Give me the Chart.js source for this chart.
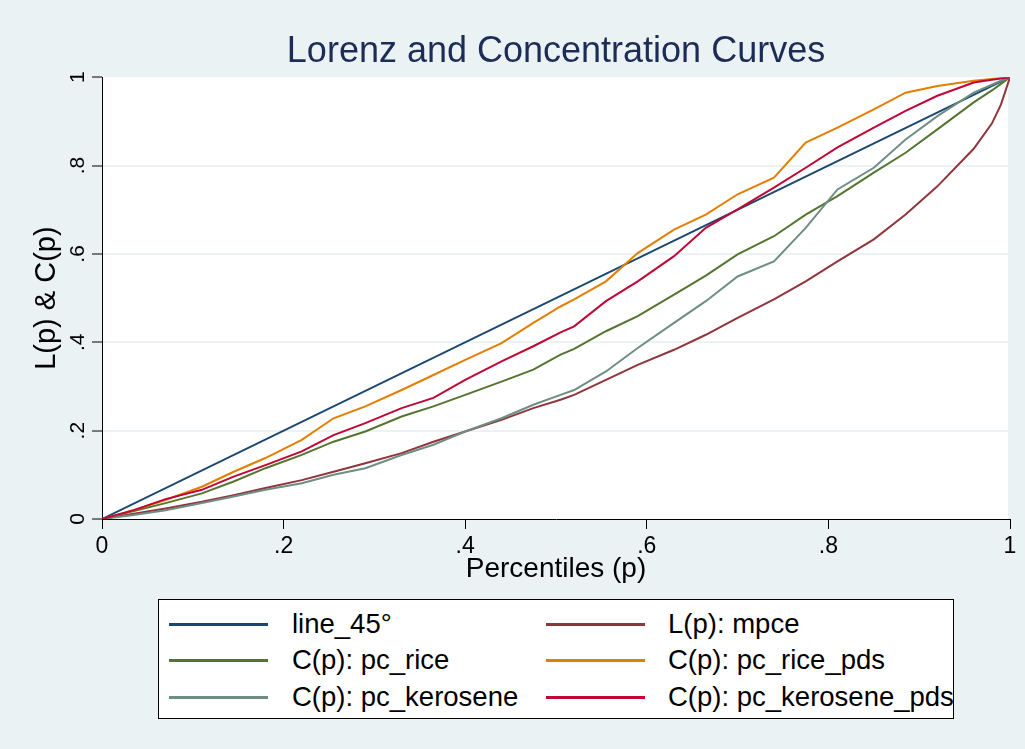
<!DOCTYPE html>
<html>
<head>
<meta charset="utf-8">
<script src="https://cdn.jsdelivr.net/npm/chart.js@4"></script>
<style>
  body { margin: 0; background: #eaf2f3; }
  #wrap { position: relative; width: 1025px; height: 749px; }
  #legend {
    position: absolute; left: 158px; top: 599px; width: 796px; height: 120px;
    box-sizing: border-box; border: 1px solid #000; background: #fff;
    font-family: "Liberation Sans", Arial, sans-serif; font-size: 27.5px; color: #000;
  }
  .sw { position: absolute; height: 3px; width: 99px; }
  .lb { position: absolute; line-height: 30px; white-space: nowrap; }
</style>
</head>
<body>
<div id="wrap">
  <canvas id="chart" width="1025" height="749"></canvas>
  <div id="legend"></div>
</div>
<script>
// percentiles (p) where the curves were read
const pct = [0, .035, .07, .11, .145, .18, .22, .255, .29, .33, .365, .40, .44, .475, .505,
             .52, .555, .59, .63, .665, .70, .74, .775, .81, .85, .885, .92, .96, .98, .99, 1];

const pct45 = [0, 1];
const line45 = [0, 1];

const mpce = [0, .012, .024, .039, .054, .070, .088, .107, .126, .149, .175, .198, .2245, .251, .270,
              .281, .315, .349, .383, .417, .455, .497, .538, .583, .633, .689, .753, .838, .895, .938, 1];
const rice = [0, .018, .036, .058, .085, .115, .145, .175, .198, .232, .255, .281, .311, .338, .372,
              .385, .425, .459, .508, .551, .599, .640, .689, .731, .784, .829, .882, .943, .970, .985, 1];
const ricePds = [0, .020, .043, .073, .107, .138, .179, .228, .255, .292, .326, .36, .398, .444, .481,
                 .497, .538, .602, .655, .689, .735, .7725, .852, .886, .927, .965, .980, .992, .996, .998, 1];
const kero = [0, .009, .020, .036, .051, .066, .081, .100, .115, .145, .168, .198, .228, .2585, .281,
              .292, .334, .387, .444, .493, .549, .583, .659, .746, .795, .859, .912, .965, .983, .992, 1];
const keroPds = [0, .020, .045, .066, .096, .122, .153, .190, .217, .251, .274, .315, .357, .391, .4225,
                 .436, .493, .538, .595, .659, .701, .750, .795, .841, .886, .924, .958, .988, .994, .997, 1];

const labels = ["line_45°", "L(p): mpce", "C(p): pc_rice", "C(p): pc_rice_pds", "C(p): pc_kerosene", "C(p): pc_kerosene_pds"];
const colors = ["#1a476f", "#90353b", "#55752f", "#e37e00", "#6e8e84", "#c10534"];
const series = [line45, mpce, rice, ricePds, kero, keroPds];

const pts = (xs, ys) => ys.map((y, i) => ({ x: xs[i], y: y }));

const fmt = v => {
  const r = Math.round(v * 10) / 10;
  if (r === 0) return "0";
  if (r === 1) return "1";
  return String(r).replace("0.", ".");
};

const font = "'Liberation Sans', Arial, sans-serif";

// fond blanc de la zone de tracé
const plotBg = {
  id: "plotBg",
  beforeDraw(chart) {
    const a = chart.chartArea, c = chart.ctx;
    c.save();
    c.fillStyle = "#fff";
    c.fillRect(a.left, a.top, a.right - a.left - 2, a.bottom - a.top);
    c.restore();
  }
};

const chart = new Chart(document.getElementById("chart"), {
  type: "line",
  data: {
    datasets: series.map((s, i) => ({
      label: labels[i],
      data: pts(i === 0 ? pct45 : pct, s),
      borderColor: colors[i],
      borderWidth: 2,
      pointRadius: 0,
      tension: 0,
      order: 6 - i
    }))
  },
  options: {
    responsive: false,
    animation: false,
    layout: { padding: { top: 0, left: 0, right: 15, bottom: 158 } },
    plugins: {
      legend: { display: false },
      tooltip: { enabled: false },
      title: {
        display: true,
        fullSize: false,
        text: "Lorenz and Concentration Curves",
        color: "#1c2c57",
        font: { family: font, size: 36, weight: "normal" },
        padding: { top: 30, bottom: 4 }
      }
    },
    scales: {
      x: {
        type: "linear", min: 0, max: 1,
        afterFit: s => { s.height = 72; },
        ticks: { stepSize: 0.2, maxRotation: 0, color: "#000", padding: 4,
                 font: { family: font, size: 23 }, callback: fmt },
        grid: { drawOnChartArea: false, tickLength: 10, tickColor: "#000", tickWidth: 1 },
        border: { color: "#000", width: 1 },
        title: { display: true, text: "Percentiles (p)", color: "#000",
                 font: { family: font, size: 28 }, padding: { top: 0, bottom: 5 } }
      },
      y: {
        min: 0, max: 1,
        afterFit: s => { s.width = 102; },
        ticks: { stepSize: 0.2, minRotation: 90, maxRotation: 90, crossAlign: "center",
                 color: "#000", padding: 5, font: { family: font, size: 21 }, callback: fmt },
        grid: {
          color: c => (c.tick && (c.tick.value === 0 || c.tick.value === 1)) ? "rgba(0,0,0,0)" : "#eaf2f3",
          lineWidth: 2, tickLength: 10, tickColor: "#000", tickWidth: 1
        },
        border: { color: "#000", width: 1 },
        title: { display: true, text: "L(p) & C(p)", color: "#000",
                 font: { family: font, size: 29 }, padding: { top: 30, bottom: 0 } }
      }
    }
  },
  plugins: [plotBg]
});

// légende sur deux colonnes
const legend = document.getElementById("legend");
const colX = [[10, 133], [387, 509]];
const rowY = [24, 60, 97];
labels.forEach((lab, i) => {
  const col = i % 2, row = Math.floor(i / 2);
  const sw = document.createElement("div");
  sw.className = "sw";
  sw.style.left = colX[col][0] + "px";
  sw.style.top = (rowY[row] - 1.5) + "px";
  sw.style.background = colors[i];
  const t = document.createElement("div");
  t.className = "lb";
  t.style.left = colX[col][1] + "px";
  t.style.top = (rowY[row] - 15) + "px";
  t.textContent = lab;
  legend.appendChild(sw);
  legend.appendChild(t);
});
</script>
</body>
</html>
